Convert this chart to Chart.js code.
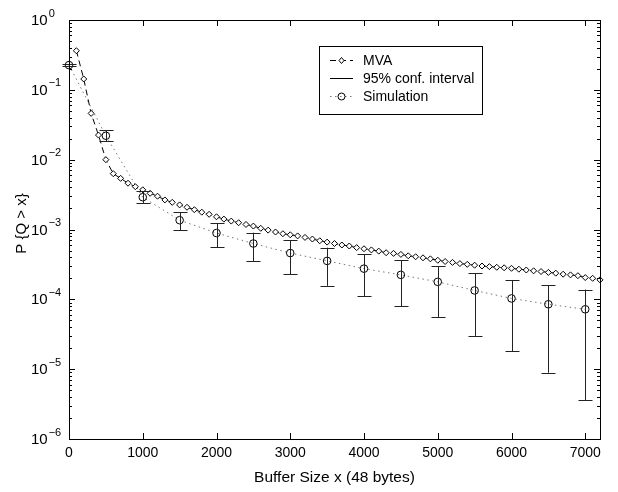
<!DOCTYPE html>
<html>
<head>
<meta charset="utf-8">
<script src="https://cdn.jsdelivr.net/npm/chart.js@4"></script>
<style>
  body { margin: 0; background: #fff; }
  #wrap { width: 618px; height: 492px; }
</style>
</head>
<body>
<div id="wrap"><canvas id="c"></canvas></div>
<script>
// buffer sizes for the MVA curve
const mvaX = [100, 200, 300, 400, 500, 600, 700, 800, 900, 1000,
  1100, 1200, 1300, 1400, 1500, 1600, 1700, 1800, 1900, 2000,
  2100, 2200, 2300, 2400, 2500, 2600, 2700, 2800, 2900, 3000,
  3100, 3200, 3300, 3400, 3500, 3600, 3700, 3800, 3900, 4000,
  4100, 4200, 4300, 4400, 4500, 4600, 4700, 4800, 4900, 5000,
  5100, 5200, 5300, 5400, 5500, 5600, 5700, 5800, 5900, 6000,
  6100, 6200, 6300, 6400, 6500, 6600, 6700, 6800, 6900, 7000,
  7100, 7200];
const mvaY = [0.363, 0.143, 0.046, 0.0225, 0.0100, 0.0063, 0.0054, 0.0046, 0.0041, 0.0037,
  0.0033, 0.0030, 0.00265, 0.00245, 0.00225, 0.00208, 0.00192, 0.00177, 0.00165, 0.00152,
  0.00141, 0.00132, 0.00125, 0.00118, 0.00112, 0.00104, 0.00098, 0.00092, 0.00087, 0.00084,
  0.00081, 0.00077, 0.00073, 0.00069, 0.00066, 0.00063, 0.00060, 0.00058, 0.00055, 0.00053,
  0.00051, 0.00049, 0.000465, 0.000455, 0.00044, 0.00042, 0.000407, 0.000393, 0.00038, 0.000363,
  0.000348, 0.000338, 0.000325, 0.000317, 0.000308, 0.0003, 0.000294, 0.000288, 0.000283, 0.000278,
  0.00027, 0.000263, 0.000256, 0.00025, 0.000243, 0.000237, 0.000229, 0.000224, 0.000218, 0.000205,
  0.0002, 0.00019];

// simulation points with 95% confidence interval
const simX = [0, 500, 1000, 1500, 2000, 2500, 3000, 3500, 4000, 4500, 5000, 5500, 6000, 6500, 7000];
const simY = [0.226, 0.022, 0.0029, 0.00136, 0.00089, 0.00063, 0.00046, 0.000355, 0.000275, 0.000224,
  0.000178, 0.000134, 0.000103, 0.000085, 0.000072];
const simHi = [0.236, 0.0265, 0.00355, 0.00176, 0.00122, 0.0009, 0.0007, 0.00055, 0.00044, 0.00036,
  0.0003, 0.000237, 0.000188, 0.00016, 0.000138];
const simLo = [0.217, 0.0185, 0.0024, 0.00098, 0.00056, 0.00035, 0.00023, 0.000156, 0.00011, 0.00008,
  0.000056, 0.00003, 0.000018, 0.0000089, 0.0000036];

const xTicks = [0, 1000, 2000, 3000, 4000, 5000, 6000, 7000];
const yExps = [0, -1, -2, -3, -4, -5, -6];

const legendItems = ['MVA', '95% conf. interval', 'Simulation'];

const FONT = '"Liberation Sans", Arial, Helvetica, sans-serif';

// error bars, box, inward ticks, y labels, legend
const axesPlugin = {
  id: 'matlabAxes',
  afterDatasetsDraw(chart) {
    const ctx = chart.ctx;
    const xs = chart.scales.x, ys = chart.scales.y;
    const a = chart.chartArea;
    ctx.save();

    // error bars
    ctx.strokeStyle = '#222';
    ctx.lineWidth = 1;
    simX.forEach((v, i) => {
      const px = Math.round(xs.getPixelForValue(v)) + 0.5;
      const top = ys.getPixelForValue(simHi[i]);
      const bot = ys.getPixelForValue(simLo[i]);
      ctx.beginPath();
      ctx.moveTo(px, top); ctx.lineTo(px, bot);
      ctx.moveTo(px - 7, Math.round(top) + 0.5); ctx.lineTo(px + 7, Math.round(top) + 0.5);
      ctx.moveTo(px - 7, Math.round(bot) + 0.5); ctx.lineTo(px + 7, Math.round(bot) + 0.5);
      ctx.stroke();
    });

    // box
    ctx.strokeStyle = '#000';
    ctx.lineWidth = 1;
    ctx.strokeRect(Math.round(a.left) + 0.5, Math.round(a.top) + 0.5,
      Math.round(a.right - a.left), Math.round(a.bottom - a.top));

    // x ticks, pointing in, top and bottom
    ctx.beginPath();
    xTicks.forEach(v => {
      const px = Math.round(xs.getPixelForValue(v)) + 0.5;
      ctx.moveTo(px, a.bottom); ctx.lineTo(px, a.bottom - 6);
      ctx.moveTo(px, a.top); ctx.lineTo(px, a.top + 6);
    });
    // y ticks, major and minor, left and right
    for (let e = -6; e <= 0; e++) {
      for (let m = 1; m <= 9; m++) {
        const val = m * Math.pow(10, e);
        if (val > 1) break;
        const py = Math.round(ys.getPixelForValue(val)) + 0.5;
        const len = m === 1 ? 6 : 3;
        ctx.moveTo(a.left, py); ctx.lineTo(a.left + len, py);
        ctx.moveTo(a.right, py); ctx.lineTo(a.right - len, py);
      }
    }
    ctx.stroke();

    // y labels 10^n
    ctx.fillStyle = '#000';
    ctx.textBaseline = 'middle';
    ctx.textAlign = 'left';
    yExps.forEach(e => {
      const py = ys.getPixelForValue(Math.pow(10, e));
      const exp = e === 0 ? '0' : '\u2212' + (-e);
      ctx.font = '15px ' + FONT;
      const bw = ctx.measureText('10').width;
      ctx.fillText('10', 31, py + 1);
      ctx.font = '11px ' + FONT;
      ctx.fillText(exp, 31 + bw + 1, py - 6.5);
    });

    // y title
    ctx.save();
    ctx.translate(22, (a.top + a.bottom) / 2 - 6);
    ctx.rotate(-Math.PI / 2);
    ctx.font = '15px ' + FONT;
    ctx.textAlign = 'center';
    ctx.textBaseline = 'middle';
    ctx.fillText('P {Q > x}', 0, 0);
    ctx.restore();

    // legend
    ctx.font = '14px ' + FONT;
    const tw = Math.max(...legendItems.map(t => ctx.measureText(t).width));
    const lx = 319.5, ly = 46.5;
    const lw = Math.round(363 - 319 + tw + 8), lh = 68;
    ctx.fillStyle = '#fff';
    ctx.fillRect(lx, ly, lw, lh);
    ctx.strokeStyle = '#000';
    ctx.strokeRect(lx, ly, lw, lh);
    const rows = [60.5, 78.5, 96.5];
    // MVA sample
    ctx.beginPath();
    ctx.setLineDash([6, 4]);
    ctx.moveTo(330, rows[0]); ctx.lineTo(353, rows[0]);
    ctx.stroke();
    ctx.setLineDash([]);
    ctx.beginPath();
    ctx.moveTo(341.5, rows[0] - 3); ctx.lineTo(344, rows[0]); ctx.lineTo(341.5, rows[0] + 3); ctx.lineTo(339, rows[0]); ctx.closePath();
    ctx.fillStyle = '#fff'; ctx.fill(); ctx.stroke();
    // conf interval sample
    ctx.beginPath();
    ctx.moveTo(330, rows[1]); ctx.lineTo(353, rows[1]);
    ctx.stroke();
    // simulation sample
    ctx.beginPath();
    ctx.strokeStyle = '#777';
    ctx.setLineDash([1.5, 3.5]);
    ctx.moveTo(330, rows[2]); ctx.lineTo(353, rows[2]);
    ctx.stroke();
    ctx.setLineDash([]);
    ctx.strokeStyle = '#000';
    ctx.beginPath();
    ctx.arc(341.5, rows[2], 3.5, 0, Math.PI * 2);
    ctx.stroke();
    ctx.fillStyle = '#000';
    ctx.textAlign = 'left';
    ctx.textBaseline = 'middle';
    legendItems.forEach((t, i) => ctx.fillText(t, 363, rows[i] + 1));

    ctx.restore();
  }
};

new Chart(document.getElementById('c'), {
  type: 'line',
  data: {
    datasets: [
      {
        label: 'MVA',
        data: mvaX.map((x, i) => ({ x: x, y: mvaY[i] })),
        borderColor: '#000',
        borderWidth: 1,
        borderDash: [6, 4],
        pointStyle: 'rectRot',
        pointRadius: 3,
        pointBorderWidth: 1,
        pointBorderColor: '#000',
        pointBackgroundColor: '#fff',
        tension: 0,
        clip: false
      },
      {
        label: 'Simulation',
        data: simX.map((x, i) => ({ x: x, y: simY[i] })),
        borderColor: '#777',
        borderWidth: 1,
        borderDash: [1.5, 3.5],
        pointStyle: 'circle',
        pointRadius: 3.8,
        pointBorderWidth: 1,
        pointBorderColor: '#000',
        pointBackgroundColor: 'rgba(0,0,0,0)',
        tension: 0,
        clip: false
      }
    ]
  },
  options: {
    responsive: true,
    maintainAspectRatio: false,
    animation: false,
    layout: { padding: { left: 0, right: 18, top: 20, bottom: 0 } },
    plugins: { legend: { display: false }, tooltip: { enabled: false } },
    scales: {
      x: {
        type: 'linear',
        min: 0,
        max: 7200,
        grid: { display: false, drawTicks: false },
        border: { display: false },
        afterBuildTicks(s) { s.ticks = xTicks.map(v => ({ value: v })); },
        ticks: {
          autoSkip: false,
          padding: 6,
          color: '#000',
          font: { family: FONT, size: 14 },
          maxRotation: 0,
          callback: v => String(v)
        },
        title: {
          display: true,
          text: 'Buffer Size x (48 bytes)',
          color: '#000',
          font: { family: FONT, size: 15.5 },
          padding: { top: 0, bottom: 5 }
        },
        afterFit(s) { s.height = 53; }
      },
      y: {
        type: 'logarithmic',
        min: 1e-6,
        max: 1,
        grid: { display: false, drawTicks: false },
        border: { display: false },
        ticks: { display: false },
        afterFit(s) { s.width = 69; }
      }
    }
  },
  plugins: [axesPlugin]
});
</script>
</body>
</html>
